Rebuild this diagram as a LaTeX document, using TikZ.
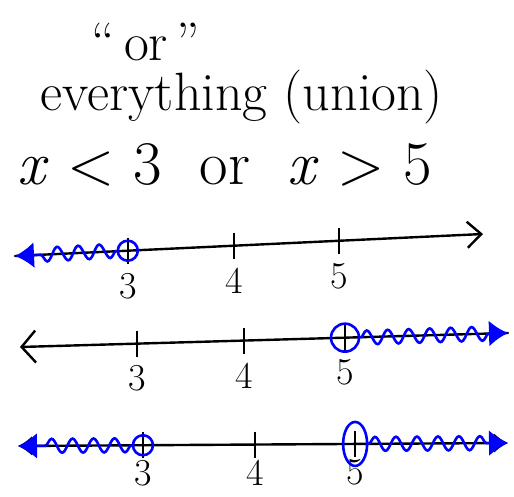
\documentclass[tikz,border=0pt]{standalone}
\usepackage{tikz}
\usetikzlibrary{positioning}
\usetikzlibrary{calc}
\usetikzlibrary{arrows.meta}
\usetikzlibrary{shapes.geometric}
\usetikzlibrary{decorations.pathmorphing}
\tikzstyle{axis}=[draw,line width=2.4pt,line cap=round]
\tikzstyle{tck}=[draw,line width=2.4pt]
\tikzstyle{wave}=[draw=blue,line width=2.6pt,decorate,decoration={snake,amplitude=7pt,segment length=21pt}]
\tikzstyle{hole}=[draw=blue,line width=2.6pt,circle,inner sep=0pt]
\tikzstyle{tip}=[blue,line width=2.6pt,-{Latex[length=19pt,width=26pt]}]
\tikzstyle{num}=[font=\fontsize{38}{38}\selectfont,inner sep=2pt]
\tikzstyle{ttl}=[font=\fontsize{54}{58}\selectfont,inner sep=0pt]

\begin{document}
\begin{tikzpicture}[x=1pt,y=-1pt]
\useasboundingbox (0,0) rectangle (514,497);
% heading
\node[ttl] (q) at (146,42) {``\,or\,''};
\node[ttl] (ev) at (242,97) {everything (union)};
\node[ttl,font=\fontsize{62}{66}\selectfont] (ineq) at (225,165) {\textit{x} < 3 \ or \ \textit{x} > 5};

% x < 3
\coordinate (a1l) at (15,256);
\coordinate (a1r) at (483,234);
\draw[axis,-{Straight Barb[length=14pt,width=26pt]}] (a1l) -- (a1r);
\foreach \n/\t in {3/0.241,4/0.468,5/0.692}{
  \coordinate (t1\n) at ($(a1l)!\t!(a1r)$);
  \draw[tck] ($(t1\n)+(0,-13)$) -- ($(t1\n)+(0,13)$);
  \node[num,below=20pt of t1\n] (n1\n) {\n};
}
\node[hole,minimum size=20pt] (c13) at (t13) {};
\coordinate (w1) at ($(a1l)!0.042!(a1r)$);
\draw[wave] (c13.west) -- (w1);
\draw[tip] (w1) -- (a1l);

% x > 5
\coordinate (a2l) at (20,347);
\coordinate (a2r) at (508,333);
\draw[axis,{Straight Barb[length=14pt,width=32pt]}-] (a2l) -- (a2r);
\foreach \n/\t in {3/0.240,4/0.459,5/0.666}{
  \coordinate (t2\n) at ($(a2l)!\t!(a2r)$);
  \draw[tck] ($(t2\n)+(0,-13)$) -- ($(t2\n)+(0,13)$);
  \node[num,below=20pt of t2\n] (n2\n) {\n};
}
\node[hole,minimum size=28pt] (c25) at (t25) {};
\coordinate (w2) at ($(a2l)!0.962!(a2r)$);
\draw[wave] (c25.east) -- (w2);
\draw[tip] (w2) -- (a2r);

% union
\coordinate (a3l) at (18,446);
\coordinate (a3r) at (508,443);
\draw[axis,{Latex[length=14pt,width=20pt]}-{Latex[length=14pt,width=20pt]}] (a3l) -- (a3r);
\foreach \n/\t in {3/0.255,4/0.484,5/0.688}{
  \coordinate (t3\n) at ($(a3l)!\t!(a3r)$);
  \draw[tck] ($(t3\n)+(0,-13)$) -- ($(t3\n)+(0,13)$);
  \node[num,below=13pt of t3\n] (n3\n) {\n};
}
\node[hole,minimum size=20pt] (c33) at (t33) {};
\node[draw=blue,line width=2.6pt,ellipse,inner sep=0pt,minimum width=24pt,minimum height=44pt] (c35) at (t35) {};
\coordinate (w3l) at ($(a3l)!0.04!(a3r)$);
\coordinate (w3r) at ($(a3l)!0.962!(a3r)$);
\draw[wave] (c33.west) -- (w3l);
\draw[tip] (w3l) -- (a3l);
\draw[wave] (c35.east) -- (w3r);
\draw[tip] (w3r) -- (a3r);
\end{tikzpicture}
\end{document}
